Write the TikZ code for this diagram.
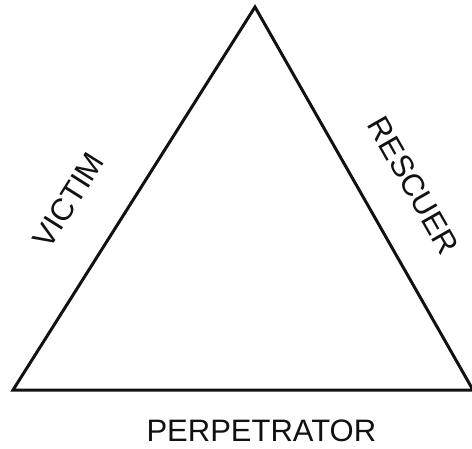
\documentclass[tikz,border=0pt]{standalone}
\usepackage{fontspec}
\usepackage{tikz}
\usetikzlibrary{positioning}
\newfontfamily\rolefont{Liberation Sans}
\definecolor{inkblack}{HTML}{111111}
\tikzset{
  tri/.style={draw=inkblack, line width=3pt, line join=miter},
  role/.style={font=\rolefont\fontsize{31}{31}\selectfont, text=inkblack, inner sep=3pt},
}

\begin{document}
\begin{tikzpicture}[x=1pt, y=1pt]
    \useasboundingbox (0,0) rectangle (472,448);
    \coordinate (bl)  at (13,58);
    \coordinate (top) at (255,441);
    \coordinate (br)  at (473,58);
    \draw[tri] (bl) -- node[role, sloped, above=39pt, pos=0.42] (victim) {VICTIM}
               (top) -- node[role, sloped, above=34pt, pos=0.53] (rescuer) {RESCUER}
               (br) -- node[role, below=25pt, pos=0.46] (perp) {PERPETRATOR} cycle;
  \end{tikzpicture}
\end{document}
